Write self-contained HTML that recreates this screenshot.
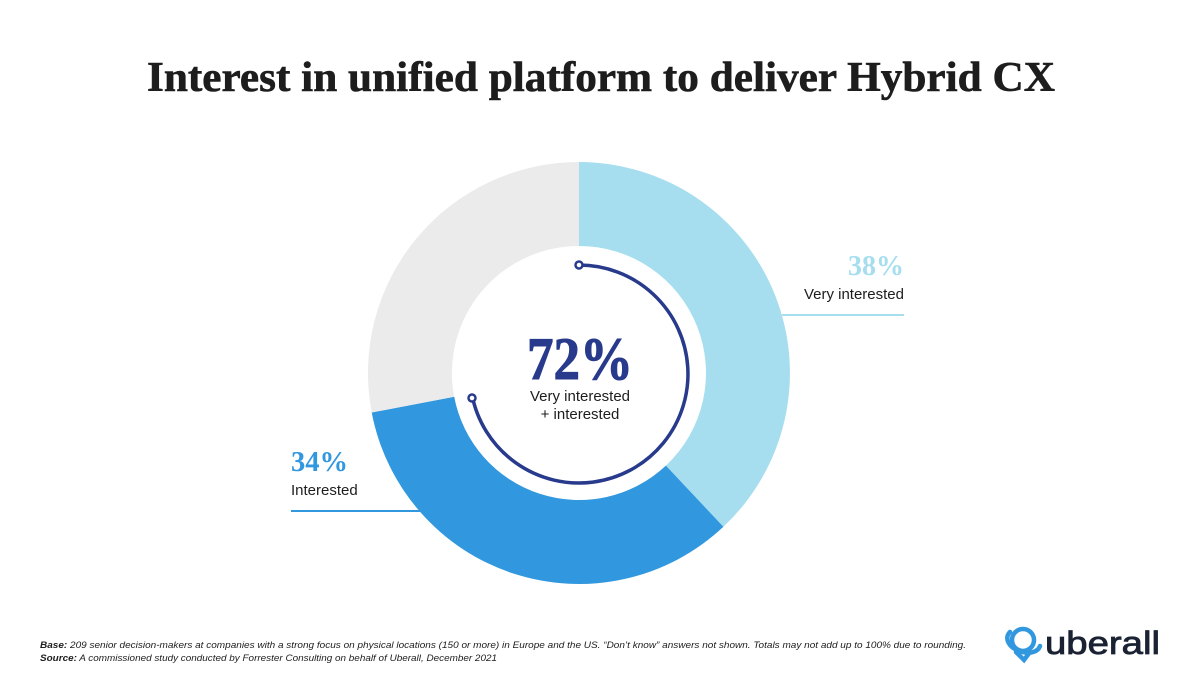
<!DOCTYPE html>
<html><head><meta charset="utf-8"><style>
html,body{margin:0;padding:0;background:#fff;}
svg{display:block;}
</style></head><body>
<svg width="1200" height="700" viewBox="0 0 1200 700" xmlns="http://www.w3.org/2000/svg">
<rect width="1200" height="700" fill="#fff"/>
<text x="601" y="91" text-anchor="middle" font-family="Liberation Serif, serif" font-weight="bold" font-size="42" fill="#1d1d1d" stroke="#1d1d1d" stroke-width="0.6" textLength="908" lengthAdjust="spacingAndGlyphs">Interest in unified platform to deliver Hybrid CX</text>
<path d="M579,162 A211,211 0 0 1 723.4,526.8 L665.9,465.6 A127,127 0 0 0 579,246 Z" fill="#a6def0"/>
<path d="M723.4,526.8 A211,211 0 0 1 371.7,412.5 L454.2,396.8 A127,127 0 0 0 665.9,465.6 Z" fill="#3197de"/>
<path d="M371.7,412.5 A211,211 0 0 1 579,162 L579,246 A127,127 0 0 0 454.2,396.8 Z" fill="#ebebeb"/>
<path d="M579,265 A109,109 0 1 1 472,395" fill="none" stroke="#283a8c" stroke-width="3.5"/>
<circle cx="579" cy="265" r="3.5" fill="#fff" stroke="#283a8c" stroke-width="2.5"/>
<circle cx="472" cy="398" r="3.5" fill="#fff" stroke="#283a8c" stroke-width="2.5"/>
<text x="580" y="379" text-anchor="middle" font-family="Liberation Serif, serif" font-weight="bold" font-size="60" fill="#283a8c" stroke="#283a8c" stroke-width="1" textLength="106" lengthAdjust="spacingAndGlyphs">72%</text>
<text x="580" y="401" text-anchor="middle" font-family="Liberation Sans, sans-serif" font-size="15" fill="#1d1d1d">Very interested</text>
<text x="580" y="419" text-anchor="middle" font-family="Liberation Sans, sans-serif" font-size="15" fill="#1d1d1d">+ interested</text>
<text x="904" y="275" text-anchor="end" font-family="Liberation Serif, serif" font-weight="bold" font-size="29" fill="#a6def0" textLength="56" lengthAdjust="spacingAndGlyphs">38%</text>
<text x="904" y="299" text-anchor="end" font-family="Liberation Sans, sans-serif" font-size="15" fill="#1d1d1d">Very interested</text>
<line x1="782" y1="315" x2="904" y2="315" stroke="#a6def0" stroke-width="2"/>
<text x="291" y="471" font-family="Liberation Serif, serif" font-weight="bold" font-size="29" fill="#3197de" textLength="57" lengthAdjust="spacingAndGlyphs">34%</text>
<text x="291" y="495" font-family="Liberation Sans, sans-serif" font-size="15" fill="#1d1d1d">Interested</text>
<line x1="291" y1="511" x2="420" y2="511" stroke="#3197de" stroke-width="2"/>
<text x="40" y="648" font-family="Liberation Sans, sans-serif" font-style="italic" font-size="9.5" fill="#1d1d1d" textLength="926" lengthAdjust="spacingAndGlyphs"><tspan font-weight="bold">Base:</tspan> 209 senior decision-makers at companies with a strong focus on physical locations (150 or more) in Europe and the US. “Don’t know” answers not shown. Totals may not add up to 100% due to rounding.</text>
<text x="40" y="661" font-family="Liberation Sans, sans-serif" font-style="italic" font-size="9.5" fill="#1d1d1d" textLength="457" lengthAdjust="spacingAndGlyphs"><tspan font-weight="bold">Source:</tspan> A commissioned study conducted by Forrester Consulting on behalf of Uberall, December 2021</text>
<g fill="none" stroke="#3197de" stroke-width="4.5" stroke-linecap="round">
<circle cx="1023" cy="640" r="11"/>
<path d="M1010,632 C1004,638 1008,648 1022,652 C1030,654 1038,652 1040,646"/>
<path d="M1016,652 L1024,660 L1030,652"/>
</g>
<text x="1045" y="654" font-family="Liberation Sans, sans-serif" font-size="32" fill="#1a2233" stroke="#1a2233" stroke-width="0.8" textLength="115" lengthAdjust="spacingAndGlyphs">uberall</text>
</svg>
</body></html>
